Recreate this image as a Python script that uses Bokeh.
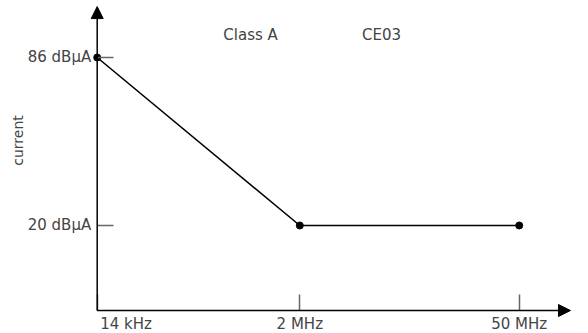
import math
from bokeh.plotting import figure
from bokeh.models import (ColumnDataSource, Arrow, NormalHead, Label,
                          FixedTicker, Range1d)
from bokeh.embed import file_html
from bokeh.resources import INLINE

# ---- data ----
freq_labels = ["14 kHz", "2 MHz", "50 MHz"]
x_pos = [0.0, 1.0, 2.083]          # schematic (non-linear) frequency positions
current_db = [86, 20, 20]
y_tick_values = [20, 86]
y_tick_labels = ["20 dB\u03bcA", "86 dB\u03bcA"]
title_texts = ["Class A", "CE03"]
y_axis_title = "current"

FONT = "DejaVu Sans"
GREY = "#444444"
FS = "15px"

# plot ranges (frame fills the canvas; axes are pinned at the origin)
X0, Y0 = 0.0, -13.4
x_start, x_end = -0.4773, 2.425
y_start, y_end = -22.43, 108.39

p = figure(width=588, height=333, output_backend="svg", toolbar_location=None,
           x_range=Range1d(x_start, x_end), y_range=Range1d(y_start, y_end),
           min_border=0, outline_line_color=None)
p.grid.visible = False
p.background_fill_color = "white"

# axes
p.xaxis.fixed_location = Y0
p.yaxis.fixed_location = X0
p.xaxis.ticker = FixedTicker(ticks=x_pos)
overrides = dict(zip(x_pos, freq_labels))
overrides[x_pos[0]] = ""
p.xaxis.major_label_overrides = overrides
p.yaxis.ticker = FixedTicker(ticks=y_tick_values)
p.yaxis.major_label_overrides = dict(zip(y_tick_values, y_tick_labels))
for ax in (p.xaxis, p.yaxis):
    ax.axis_line_color = None
    ax.minor_tick_line_color = None
    ax.major_tick_out = 0
    ax.major_tick_in = 16
    ax.major_tick_line_color = "#666666"
    ax.major_tick_line_width = 1.5
    ax.major_label_text_font = FONT
    ax.major_label_text_font_size = FS
    ax.major_label_text_color = GREY
p.xaxis.major_label_standoff = 4
p.yaxis.major_label_standoff = 6

# y axis title
p.add_layout(Label(x=X0, y=53.4, x_offset=-79, text=y_axis_title, angle=math.pi / 2,
                   text_align="center", text_baseline="middle", text_font=FONT,
                   text_font_size="14px", text_color=GREY))

# first x label, left-aligned past the origin
p.add_layout(Label(x=x_pos[0], y=Y0, x_offset=3, y_offset=-4, text=freq_labels[0],
                   text_align="left", text_baseline="top", text_font=FONT,
                   text_font_size=FS, text_color=GREY))

# arrows for axes
head = dict(size=12, fill_color="black", line_color="black")
p.add_layout(Arrow(x_start=X0, y_start=Y0, x_end=X0, y_end=106.0,
                   line_color="black", line_width=1.5, end=NormalHead(**head)))
p.add_layout(Arrow(x_start=X0, y_start=Y0, x_end=2.336, y_end=Y0,
                   line_color="black", line_width=1.5, end=NormalHead(**head)))

# data
src = ColumnDataSource(dict(x=x_pos, y=current_db))
p.line("x", "y", source=src, line_color="black", line_width=1.6)
p.scatter("x", "y", source=src, size=7, fill_color="black", line_color="black")

# title texts
p.add_layout(Label(x=0.757, y=94.9, text=title_texts[0], text_align="center",
                   text_baseline="middle", text_font=FONT, text_font_size=FS,
                   text_color=GREY))
p.add_layout(Label(x=1.403, y=94.9, text=title_texts[1], text_align="center",
                   text_baseline="middle", text_font=FONT, text_font_size=FS,
                   text_color=GREY))

open("out.html", "w").write(file_html(p, INLINE))
